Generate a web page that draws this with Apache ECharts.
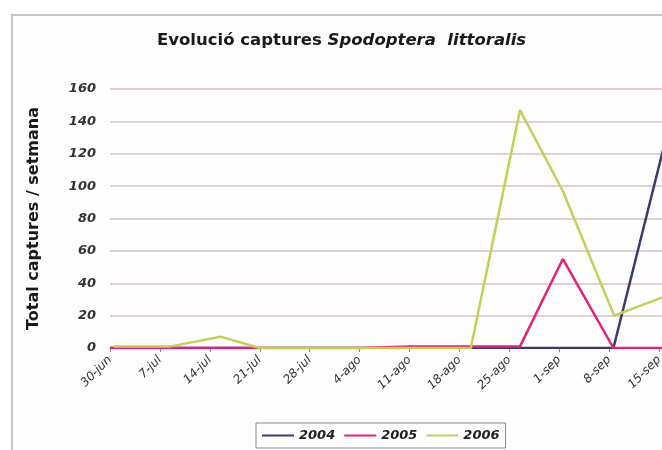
<!DOCTYPE html>
<html>
<head>
<meta charset="utf-8">
<title>Evolució captures Spodoptera littoralis</title>
<script src="https://cdn.jsdelivr.net/npm/echarts@6/dist/echarts.min.js"></script>
<style>
  html, body { margin: 0; padding: 0; background: #ffffff; }
  #chart { width: 662px; height: 450px; }
</style>
</head>
<body>
<div id="chart"></div>
<script>
// Weekly date labels along the x axis (days counted from 30-jun)
const tickLabels = ['30-jun', '7-jul', '14-jul', '21-jul', '28-jul', '4-ago', '11-ago',
                    '18-ago', '25-ago', '1-sep', '8-sep', '15-sep', '22-sep'];

// Sampling days (offset from 30-jun) and weekly captures for each year
const days2004 = [0, 7, 14, 21, 28, 35, 42, 49, 56, 63, 70.6, 78.5];
const vals2004 = [0, 0, 0, 0, 0, 0, 0, 0, 0, 0, 0, 139];

const days2005 = [0, 7, 14, 21, 28, 35, 42, 49, 57.5, 63.5, 70.6, 77.5, 84];
const vals2005 = [0, 0, 0, 0, 0, 0, 1, 1, 1, 55, 0, 0, 0];

const days2006 = [0.5, 8.5, 15.5, 21, 28, 35, 42, 50.6, 57.5, 63.5, 70.7, 78.5];
const vals2006 = [1, 1, 7, 0, 0, 0, 0, 0, 147, 97, 20, 33];

const seriesNames = ['2004', '2005', '2006'];
const seriesColors = ['#3b3b6e', '#e0237c', '#c5ce58'];

const pairs = (d, v) => d.map((x, i) => [x, v[i]]);
const seriesData = [pairs(days2004, vals2004), pairs(days2005, vals2005), pairs(days2006, vals2006)];

const FONT = 'DejaVu Sans, Liberation Sans, Arial, sans-serif';
const chart = echarts.init(document.getElementById('chart'), null, { renderer: 'canvas' });

chart.setOption({
  backgroundColor: '#ffffff',
  animation: false,
  graphic: [{
    type: 'rect',
    shape: { x: 12, y: 15, width: 720, height: 500 },
    style: { fill: '#fefefe', stroke: '#c4c4c4', lineWidth: 2 },
    z: -10
  }],
  title: {
    text: '{a|Evolució captures }{b|Spodoptera  littoralis}',
    left: 152,
    top: 27,
    textStyle: {
      rich: {
        a: { fontFamily: FONT, fontWeight: 'bold', fontSize: 16.5, color: '#1a1a1a' },
        b: { fontFamily: FONT, fontWeight: 'bold', fontStyle: 'italic', fontSize: 16.5, color: '#1a1a1a' }
      }
    }
  },
  legend: {
    data: seriesNames,
    left: 256,
    top: 423,
    itemWidth: 32,
    itemHeight: 2,
    itemGap: 9,
    icon: 'rect',
    padding: [6, 6, 6, 6],
    borderColor: '#8a8a8a',
    borderWidth: 1,
    textStyle: { fontFamily: FONT, fontWeight: 'bold', fontStyle: 'italic', fontSize: 13, color: '#222' }
  },
  grid: {
    left: 110, width: 599, top: 89, height: 259,
    containLabel: false,
    outerBoundsMode: 'none'
  },
  xAxis: {
    type: 'value',
    min: 0,
    max: 84,
    interval: 7,
    axisLine: { show: true, onZero: false, lineStyle: { color: '#8c8c8c', width: 1 } },
    axisTick: { show: true, length: 4, lineStyle: { color: '#8c8c8c' } },
    splitLine: { show: false },
    axisLabel: {
      rotate: 45,
      margin: 10,
      fontFamily: FONT,
      fontStyle: 'italic',
      fontSize: 12,
      color: '#333',
      formatter: (v) => tickLabels[Math.round(v / 7)] || ''
    }
  },
  yAxis: {
    type: 'value',
    min: 0,
    max: 160,
    interval: 20,
    name: 'Total captures / setmana',
    nameLocation: 'middle',
    nameGap: 68,
    nameTextStyle: { fontFamily: FONT, fontWeight: 'bold', fontSize: 16, color: '#1a1a1a' },
    axisLine: { show: false },
    axisTick: { show: false },
    splitLine: { show: true, lineStyle: { color: '#d8bec7', width: 1.5 } },
    axisLabel: {
      margin: 14,
      fontFamily: FONT,
      fontStyle: 'italic',
      fontWeight: 'bold',
      fontSize: 13,
      color: '#333'
    }
  },
  series: seriesNames.map((name, i) => ({
    name: name,
    type: 'line',
    data: seriesData[i],
    showSymbol: false,
    symbol: 'none',
    clip: true,
    lineStyle: { color: seriesColors[i], width: 2.5 },
    itemStyle: { color: seriesColors[i] },
    z: 2 + i
  }))
});
</script>
</body>
</html>
